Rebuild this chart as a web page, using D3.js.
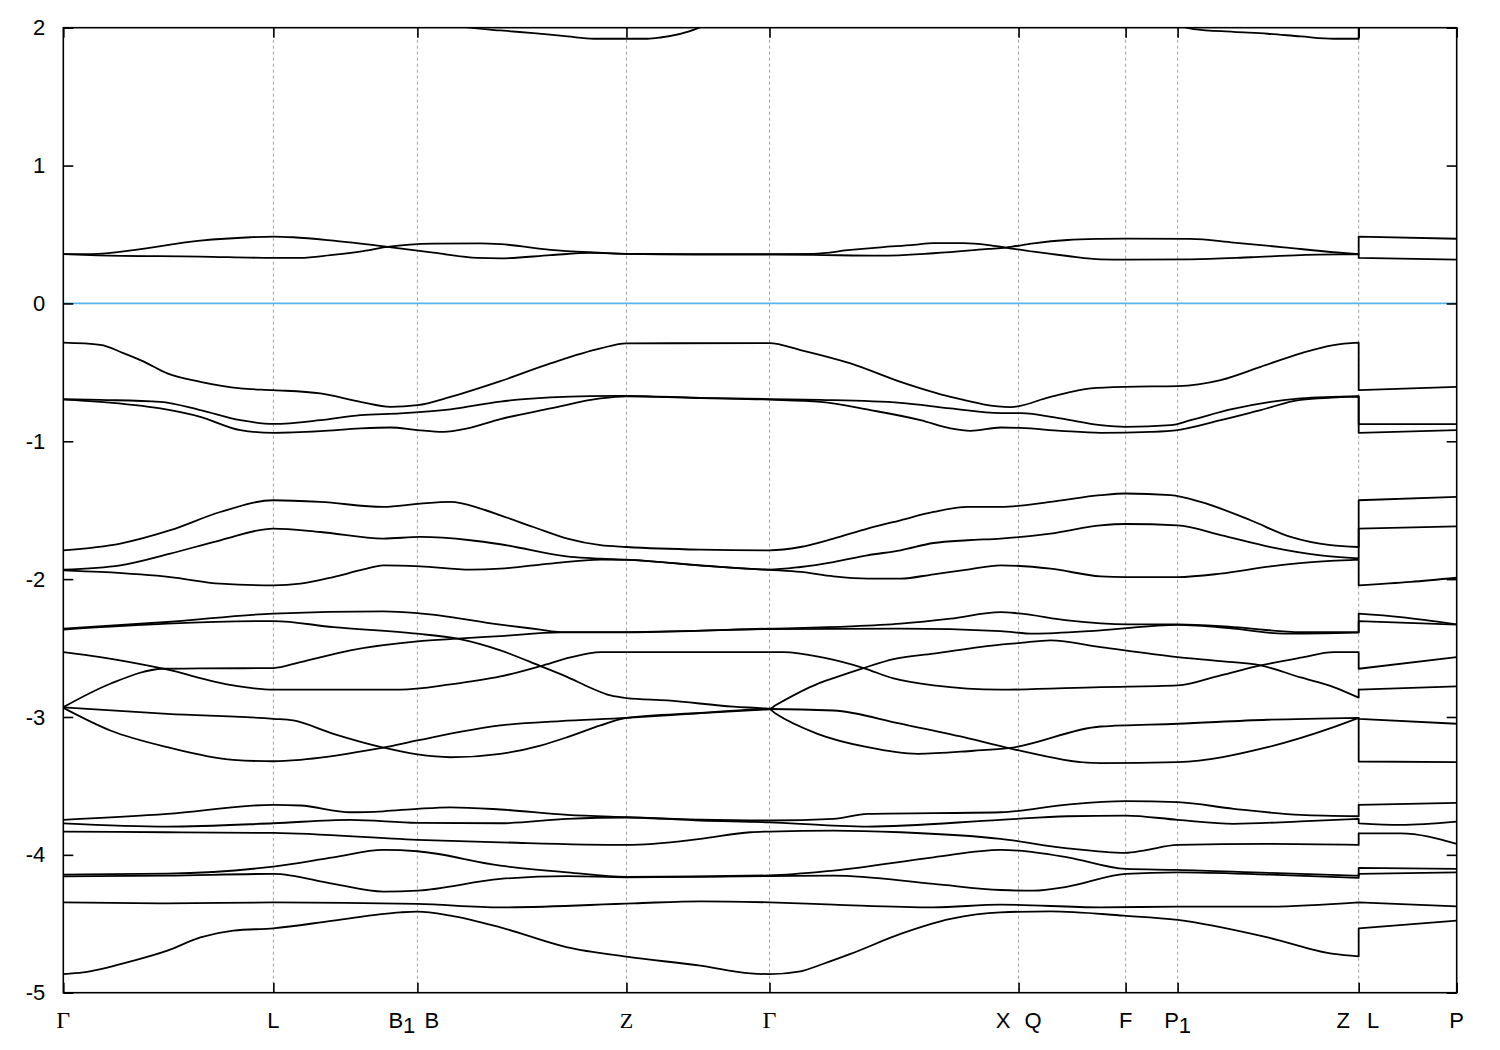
<!DOCTYPE html>
<html><head><meta charset="utf-8">
<script src="https://cdn.jsdelivr.net/npm/d3@7"></script>
<style>body{margin:0;background:#fff}</style>
</head><body>
<svg id="chart" width="1500" height="1050"></svg>
<script>
// ---- high-symmetry path (k distance) ----
const kTicks  = [0, 2.10, 3.54, 5.63, 7.06, 9.55, 10.62, 11.14, 12.95, 13.93];
const kLabels = [["Γ"], ["L"], ["B_1", "B"], ["Z"], ["Γ"], ["X", "Q"], ["F"], ["P_1"], ["Z", "L"], ["P"]];
const yTicks  = [2, 1, 0, -1, -2, -3, -4, -5];
const fermiLevel = 0;

// ---- bands: [k, E(eV)] ; repeated k = 12.95 marks the Z|L jump ----
const bandC3 = [[0,2.5],[2.10,2.35],[3.37,2.12],[4.07,2.0],[4.37,1.98],[4.70,1.961],[5.04,1.937],[5.30,1.92],[5.63,1.92],[5.84,1.92],[5.97,1.929],[6.34,1.995],[6.70,2.15],[7.06,2.3],[9.55,2.35],[10.62,2.15],[11.30,1.99],[11.70,1.97],[12.04,1.956],[12.37,1.937],[12.70,1.92],[12.95,1.92],[12.95,2.3],[13.93,2.3]];
const bandCa = [[0,0.357],[0.34,0.36],[0.70,0.387],[1.37,0.455],[1.87,0.48],[2.10,0.485],[2.30,0.48],[2.70,0.455],[3.24,0.41],[3.70,0.368],[4.14,0.33],[4.37,0.327],[4.87,0.35],[5.27,0.367],[5.63,0.36],[6.30,0.358],[7.06,0.357],[7.50,0.36],[7.87,0.388],[8.17,0.407],[8.50,0.424],[8.70,0.437],[9.00,0.437],[9.25,0.423],[9.42,0.405],[9.70,0.375],[10.04,0.344],[10.37,0.32],[10.62,0.318],[11.27,0.32],[11.87,0.335],[12.37,0.351],[12.95,0.357],[12.95,0.33],[13.93,0.317]];
const bandCb = [[0,0.357],[0.34,0.349],[1.37,0.34],[2.10,0.33],[2.37,0.33],[2.67,0.35],[3.00,0.38],[3.24,0.41],[3.70,0.434],[4.17,0.436],[4.37,0.43],[4.87,0.389],[5.27,0.371],[5.63,0.36],[6.30,0.355],[7.06,0.355],[7.50,0.352],[8.17,0.346],[8.70,0.364],[9.25,0.395],[9.42,0.405],[9.70,0.436],[10.04,0.46],[10.37,0.468],[10.62,0.47],[11.27,0.468],[11.70,0.441],[12.20,0.407],[12.70,0.371],[12.95,0.357],[12.95,0.485],[13.93,0.469]];
const bandV01 = [[0,-0.285],[0.37,-0.30],[0.60,-0.36],[0.80,-0.42],[1.04,-0.508],[1.37,-0.569],[1.77,-0.617],[2.10,-0.629],[2.57,-0.653],[2.97,-0.714],[3.27,-0.75],[3.54,-0.738],[3.87,-0.678],[4.37,-0.564],[4.87,-0.435],[5.37,-0.326],[5.63,-0.29],[7.06,-0.288],[7.37,-0.338],[7.87,-0.435],[8.37,-0.569],[8.87,-0.678],[9.47,-0.752],[9.87,-0.678],[10.27,-0.617],[10.62,-0.605],[11.14,-0.60],[11.57,-0.556],[11.97,-0.46],[12.37,-0.362],[12.70,-0.302],[12.95,-0.285],[12.95,-0.629],[13.93,-0.605]];
const bandV02 = [[0,-0.694],[0.37,-0.70],[0.97,-0.714],[1.37,-0.774],[1.77,-0.847],[2.10,-0.874],[2.57,-0.847],[2.97,-0.81],[3.37,-0.798],[3.87,-0.769],[4.37,-0.712],[4.87,-0.682],[5.27,-0.672],[5.63,-0.67],[6.37,-0.685],[7.06,-0.694],[7.57,-0.70],[8.37,-0.721],[8.87,-0.762],[9.37,-0.796],[9.57,-0.796],[9.97,-0.834],[10.37,-0.883],[10.62,-0.895],[11.07,-0.883],[11.27,-0.847],[11.67,-0.769],[12.07,-0.714],[12.37,-0.689],[12.95,-0.672],[12.95,-0.876],[13.93,-0.876]];
const bandV03 = [[0,-0.698],[0.37,-0.714],[0.97,-0.762],[1.37,-0.823],[1.77,-0.919],[2.10,-0.939],[2.57,-0.927],[2.97,-0.907],[3.27,-0.90],[3.54,-0.919],[3.80,-0.932],[4.04,-0.907],[4.37,-0.839],[4.87,-0.762],[5.37,-0.689],[5.63,-0.674],[6.37,-0.687],[7.06,-0.698],[7.57,-0.714],[8.07,-0.774],[8.57,-0.847],[8.87,-0.907],[9.07,-0.924],[9.37,-0.90],[9.57,-0.903],[9.97,-0.924],[10.37,-0.939],[10.87,-0.932],[11.14,-0.919],[11.57,-0.847],[11.97,-0.774],[12.37,-0.70],[12.95,-0.676],[12.95,-0.939],[13.93,-0.919]];
const bandV04 = [[0,-1.791],[0.57,-1.742],[1.07,-1.645],[1.57,-1.513],[2.10,-1.428],[2.57,-1.44],[3.20,-1.476],[3.57,-1.452],[3.87,-1.44],[4.17,-1.488],[4.37,-1.537],[4.70,-1.622],[5.04,-1.706],[5.37,-1.754],[5.63,-1.767],[6.37,-1.786],[7.06,-1.791],[7.37,-1.767],[7.70,-1.706],[8.04,-1.633],[8.37,-1.573],[8.70,-1.513],[9.04,-1.476],[9.37,-1.476],[9.87,-1.44],[10.37,-1.391],[10.62,-1.379],[11.07,-1.391],[11.37,-1.44],[11.87,-1.573],[12.27,-1.694],[12.67,-1.754],[12.95,-1.767],[12.95,-1.428],[13.93,-1.404]];
const bandV05 = [[0,-1.931],[0.57,-1.90],[1.07,-1.815],[1.57,-1.718],[2.10,-1.633],[2.57,-1.658],[3.20,-1.706],[3.57,-1.694],[4.07,-1.718],[4.37,-1.747],[5.07,-1.839],[5.37,-1.851],[5.63,-1.858],[6.37,-1.90],[7.06,-1.931],[7.37,-1.912],[7.70,-1.876],[8.04,-1.827],[8.37,-1.791],[8.70,-1.738],[9.04,-1.718],[9.37,-1.706],[9.87,-1.67],[10.37,-1.61],[10.62,-1.60],[11.14,-1.61],[11.57,-1.68],[12.07,-1.767],[12.57,-1.827],[12.95,-1.85],[12.95,-1.633],[13.93,-1.617]];
const bandV06 = [[0,-1.936],[0.37,-1.948],[1.07,-1.985],[1.57,-2.033],[2.10,-2.045],[2.37,-2.033],[2.70,-1.985],[3.00,-1.93],[3.20,-1.90],[3.57,-1.907],[4.07,-1.931],[4.37,-1.924],[4.87,-1.887],[5.37,-1.858],[5.63,-1.86],[6.37,-1.902],[7.06,-1.933],[7.37,-1.948],[7.70,-1.98],[8.04,-1.996],[8.37,-1.996],[8.70,-1.965],[9.04,-1.931],[9.37,-1.90],[9.87,-1.924],[10.37,-1.98],[10.62,-1.985],[11.14,-1.985],[11.57,-1.96],[12.07,-1.907],[12.67,-1.868],[12.95,-1.858],[12.95,-2.045],[13.47,-2.02],[13.93,-1.99]];
const bandV07 = [[0,-2.359],[1.04,-2.311],[2.10,-2.25],[3.20,-2.234],[3.54,-2.246],[4.37,-2.33],[4.77,-2.366],[4.97,-2.384],[5.63,-2.384],[7.06,-2.359],[7.87,-2.343],[8.37,-2.323],[8.87,-2.287],[9.37,-2.239],[9.55,-2.248],[10.04,-2.299],[10.64,-2.328],[11.14,-2.328],[11.70,-2.348],[12.37,-2.384],[12.95,-2.384],[12.95,-2.25],[13.37,-2.275],[13.93,-2.328]];
const bandV08 = [[0,-2.366],[1.04,-2.323],[2.10,-2.304],[2.70,-2.348],[3.54,-2.396],[3.94,-2.432],[4.37,-2.517],[4.77,-2.631],[5.04,-2.711],[5.27,-2.788],[5.47,-2.844],[5.63,-2.863],[6.04,-2.88],[6.70,-2.925],[7.00,-2.937],[7.06,-2.94],[7.12,-2.915],[7.54,-2.76],[7.70,-2.718],[8.00,-2.645],[8.30,-2.58],[8.70,-2.54],[9.37,-2.475],[9.55,-2.464],[9.87,-2.444],[10.37,-2.493],[11.14,-2.566],[11.57,-2.595],[11.97,-2.626],[12.37,-2.713],[12.70,-2.783],[12.95,-2.86],[12.95,-2.802],[13.93,-2.778]];
const bandV09 = [[0,-2.529],[0.37,-2.566],[1.00,-2.65],[1.70,-2.771],[2.10,-2.802],[3.37,-2.802],[3.87,-2.764],[4.37,-2.706],[4.77,-2.631],[5.07,-2.568],[5.37,-2.529],[5.63,-2.529],[7.06,-2.529],[7.20,-2.529],[7.60,-2.57],[8.00,-2.645],[8.30,-2.72],[8.70,-2.771],[9.37,-2.802],[10.37,-2.783],[11.14,-2.771],[11.57,-2.698],[11.97,-2.626],[12.37,-2.57],[12.70,-2.529],[12.95,-2.529],[12.95,-2.65],[13.93,-2.566]];
const bandV10 = [[0,-2.929],[0.47,-2.759],[1.00,-2.65],[1.37,-2.648],[2.10,-2.645],[2.37,-2.602],[2.87,-2.517],[3.54,-2.452],[3.94,-2.432],[4.37,-2.413],[4.97,-2.386],[5.63,-2.386],[7.06,-2.362],[8.37,-2.359],[9.37,-2.377],[9.70,-2.396],[10.37,-2.372],[11.14,-2.332],[11.70,-2.359],[12.20,-2.396],[12.95,-2.388],[12.95,-2.304],[13.93,-2.33]];
const bandV11 = [[0,-2.931],[1.04,-2.977],[2.10,-3.013],[2.30,-3.025],[2.70,-3.122],[3.20,-3.222],[3.54,-3.272],[3.87,-3.292],[4.37,-3.267],[4.77,-3.207],[5.04,-3.146],[5.37,-3.061],[5.63,-3.006],[6.37,-2.971],[7.06,-2.942],[7.70,-2.953],[8.37,-3.049],[8.97,-3.141],[9.45,-3.226],[10.37,-3.335],[11.14,-3.328],[12.04,-3.219],[12.70,-3.074],[12.95,-3.007],[12.95,-3.013],[13.93,-3.049]];
const bandV12 = [[0,-2.934],[0.47,-3.098],[1.04,-3.219],[1.70,-3.311],[2.10,-3.321],[2.37,-3.311],[3.04,-3.243],[3.20,-3.222],[3.54,-3.17],[4.37,-3.061],[4.97,-3.03],[5.63,-3.007],[6.37,-2.972],[7.00,-2.947],[7.06,-2.945],[7.12,-2.975],[7.54,-3.122],[8.04,-3.219],[8.54,-3.267],[9.10,-3.245],[9.45,-3.226],[10.37,-3.069],[11.14,-3.049],[12.04,-3.02],[12.95,-3.006],[12.95,-3.323],[13.93,-3.328]];
const bandV13 = [[0,-3.746],[1.04,-3.703],[2.10,-3.637],[2.37,-3.642],[2.87,-3.691],[3.20,-3.684],[3.54,-3.666],[3.87,-3.655],[4.37,-3.671],[5.04,-3.71],[5.63,-3.727],[6.37,-3.745],[7.06,-3.751],[7.70,-3.739],[8.04,-3.703],[9.37,-3.691],[10.04,-3.635],[10.62,-3.611],[11.14,-3.618],[11.70,-3.666],[12.37,-3.71],[12.95,-3.72],[12.95,-3.637],[13.93,-3.623]];
const bandV14 = [[0,-3.771],[1.04,-3.795],[2.10,-3.771],[2.87,-3.746],[3.54,-3.768],[4.37,-3.771],[5.04,-3.739],[5.63,-3.729],[6.37,-3.751],[7.06,-3.764],[7.70,-3.788],[8.04,-3.795],[9.37,-3.746],[10.04,-3.72],[10.62,-3.715],[11.14,-3.746],[11.70,-3.775],[12.37,-3.757],[12.95,-3.739],[12.95,-3.771],[13.37,-3.783],[13.93,-3.759]];
const bandV15 = [[0,-3.831],[1.04,-3.836],[2.10,-3.841],[3.54,-3.891],[4.37,-3.909],[5.63,-3.928],[6.37,-3.884],[6.87,-3.836],[7.06,-3.831],[7.70,-3.824],[8.37,-3.836],[9.37,-3.884],[10.04,-3.953],[10.62,-3.986],[10.80,-3.969],[11.14,-3.928],[12.04,-3.921],[12.95,-3.928],[12.95,-3.844],[13.37,-3.844],[13.93,-3.921]];
const bandV16 = [[0,-4.143],[1.04,-4.136],[2.10,-4.085],[2.70,-4.018],[3.20,-3.964],[3.54,-3.974],[4.37,-4.078],[5.04,-4.127],[5.63,-4.16],[7.06,-4.149],[7.70,-4.114],[8.70,-4.018],[9.37,-3.964],[9.55,-3.969],[10.04,-4.018],[10.62,-4.102],[11.14,-4.109],[12.04,-4.131],[12.95,-4.151],[12.95,-4.095],[13.93,-4.102]];
const bandV17 = [[0,-4.156],[1.04,-4.151],[2.10,-4.138],[2.70,-4.211],[3.20,-4.267],[3.54,-4.26],[4.37,-4.175],[5.04,-4.154],[5.63,-4.163],[7.06,-4.154],[7.70,-4.151],[8.70,-4.211],[9.37,-4.255],[9.70,-4.26],[10.04,-4.231],[10.62,-4.138],[11.14,-4.127],[12.04,-4.143],[12.95,-4.167],[12.95,-4.138],[13.93,-4.127]];
const bandV18 = [[0,-4.345],[1.04,-4.352],[2.10,-4.345],[3.54,-4.356],[4.37,-4.381],[5.70,-4.352],[6.37,-4.337],[7.06,-4.345],[7.70,-4.361],[8.70,-4.381],[9.37,-4.361],[10.37,-4.381],[11.14,-4.376],[12.04,-4.376],[12.95,-4.345],[12.95,-4.345],[13.93,-4.374]];
const bandV19 = [[0,-4.865],[0.20,-4.853],[0.70,-4.768],[1.04,-4.695],[1.37,-4.599],[1.70,-4.55],[2.10,-4.533],[2.70,-4.477],[3.37,-4.417],[3.54,-4.412],[3.87,-4.441],[4.37,-4.526],[5.04,-4.671],[5.63,-4.739],[6.37,-4.804],[6.87,-4.86],[7.06,-4.865],[7.37,-4.845],[7.60,-4.79],[7.87,-4.719],[8.37,-4.574],[8.87,-4.465],[9.37,-4.417],[9.87,-4.41],[10.60,-4.441],[11.14,-4.472],[12.04,-4.599],[12.70,-4.719],[12.95,-4.737],[12.95,-4.533],[13.93,-4.477]];

const bands = [bandC3, bandCa, bandCb, bandV01, bandV02, bandV03, bandV04, bandV05, bandV06,
  bandV07, bandV08, bandV09, bandV10, bandV11, bandV12, bandV13, bandV14, bandV15, bandV16,
  bandV17, bandV18, bandV19];

// ---- drawing ----
const L = 63.3, R = 1456.7, T = 27.7, B = 992.7;
const x = d3.scaleLinear().domain([kTicks[0], kTicks[kTicks.length - 1]]).range([L, R]);
const y = d3.scaleLinear().domain([-5, 2]).range([B, T]);
const svg = d3.select("#chart");
const sans = "'Liberation Sans', Arial, Helvetica, sans-serif";
const serif = "'Liberation Serif', 'Times New Roman', serif";

svg.append("defs").append("clipPath").attr("id", "plotclip")
  .append("rect").attr("x", L).attr("y", T).attr("width", R - L).attr("height", B - T);

// vertical dashed grid at interior k points
svg.append("g").selectAll("line").data(kTicks.slice(1, -1)).join("line")
  .attr("x1", d => x(d)).attr("x2", d => x(d)).attr("y1", T).attr("y2", B)
  .attr("stroke", "#a0a0a0").attr("stroke-width", 1).attr("stroke-dasharray", "3,3");

// Fermi level
svg.append("line").attr("x1", L).attr("x2", R).attr("y1", y(fermiLevel)).attr("y2", y(fermiLevel))
  .attr("stroke", "#56b4e9").attr("stroke-width", 1.7);

// bands
const lineGen = d3.line().x(d => x(d[0])).y(d => y(d[1])).curve(d3.curveMonotoneX);
function bandPath(b) {
  let split = b.length;
  for (let i = 1; i < b.length; i++) if (b[i][0] === b[i - 1][0]) { split = i; break; }
  const p1 = lineGen(b.slice(0, split));
  if (split === b.length) return p1;
  const p2 = lineGen(b.slice(split));
  return p1 + "L" + p2.slice(1);
}
svg.append("g").attr("clip-path", "url(#plotclip)").selectAll("path").data(bands).join("path")
  .attr("d", bandPath).attr("fill", "none").attr("stroke", "#000").attr("stroke-width", 1.8)
  .attr("stroke-linejoin", "round");

// axes (gnuplot-like inward ticks, mirrored)
function styleAxis(g) {
  g.select(".domain").remove();
  g.selectAll(".tick line").attr("stroke", "#000").attr("stroke-width", 1.6);
}
svg.append("g").attr("transform", `translate(0,${B})`)
  .call(d3.axisBottom(x).tickValues(kTicks).tickSize(-10).tickSizeOuter(0).tickFormat(""))
  .call(styleAxis);
svg.append("g").attr("transform", `translate(0,${T})`)
  .call(d3.axisTop(x).tickValues(kTicks).tickSize(-10).tickSizeOuter(0).tickFormat(""))
  .call(styleAxis);
svg.append("g").attr("transform", `translate(${R},0)`)
  .call(d3.axisRight(y).tickValues(yTicks).tickSize(-10).tickSizeOuter(0).tickFormat(""))
  .call(styleAxis);
const gl = svg.append("g").attr("transform", `translate(${L},0)`)
  .call(d3.axisLeft(y).tickValues(yTicks).tickSize(-10).tickSizeOuter(0).tickPadding(18).tickFormat(d => String(d)))
  .call(styleAxis);
gl.selectAll(".tick text").attr("font-family", sans).attr("font-size", 22).attr("fill", "#000");

// frame
svg.append("rect").attr("x", L).attr("y", T).attr("width", R - L).attr("height", B - T)
  .attr("fill", "none").attr("stroke", "#000").attr("stroke-width", 1.6);

// k-point labels
const lab = svg.append("g").attr("font-size", 22).attr("fill", "#000");
kLabels.forEach((parts, i) => {
  const offs = parts.length === 2 ? [-15.5, 14.5] : [0];
  parts.forEach((p, j) => {
    const [main, sub] = p.split("_");
    const isSerif = main === "Γ" || (main === "Z" && i === 3);
    const t = lab.append("text").attr("x", x(kTicks[i]) + offs[j]).attr("y", 1028)
      .attr("text-anchor", "middle").attr("font-family", isSerif ? serif : sans)
      .attr("font-size", main === "Γ" ? 24 : 22);
    t.append("tspan").text(main);
    if (sub) t.append("tspan").attr("dy", 5).text(sub);
  });
});
</script>
</body></html>
